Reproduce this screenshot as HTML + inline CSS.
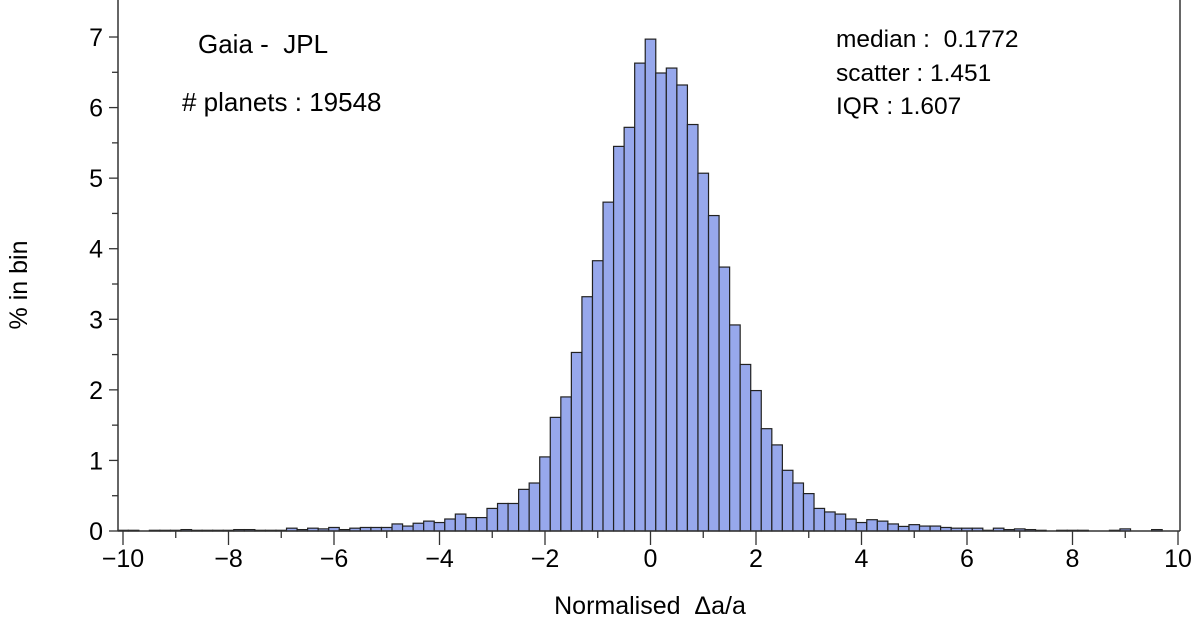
<!DOCTYPE html>
<html><head><meta charset="utf-8"><style>
body{margin:0;background:#fff;}
svg{display:block;font-family:"Liberation Sans",Arial,sans-serif;}
text{white-space:pre;}
</style></head><body>
<svg id="chart" width="1200" height="626" viewBox="0 0 1200 626" xmlns="http://www.w3.org/2000/svg" xml:space="preserve">
<g id="bars"></g>
<g id="axes"></g>
<text x="198" y="53" font-size="26">Gaia -  JPL</text>
<text x="182" y="111" font-size="26"># planets : 19548</text>
<text x="836" y="47" font-size="24.5">median :  0.1772</text>
<text x="836" y="81" font-size="24.5">scatter : 1.451</text>
<text x="836" y="114" font-size="24.5">IQR : 1.607</text>
<text x="650" y="614" font-size="25" text-anchor="middle">Normalised  Δa/a</text>
<text transform="translate(27,285) rotate(-90)" font-size="25" text-anchor="middle">% in bin</text>
</svg>
<script>
const binStart = -10.0;
const binWidth = 0.2;
const percents = [
0.01,0.01,0.00,0.01,0.01,0.01,0.02,0.01,0.01,0.01,
0.01,0.02,0.02,0.01,0.01,0.01,0.04,0.02,0.04,0.03,
0.05,0.02,0.04,0.05,0.05,0.05,0.10,0.07,0.11,0.14,
0.12,0.17,0.24,0.19,0.19,0.32,0.39,0.39,0.59,0.68,
1.05,1.61,1.90,2.53,3.32,3.83,4.66,5.45,5.72,6.63,
6.97,6.49,6.56,6.32,5.76,5.07,4.47,3.74,2.92,2.36,
1.99,1.45,1.22,0.86,0.68,0.53,0.32,0.27,0.24,0.17,
0.12,0.16,0.14,0.10,0.065,0.09,0.07,0.07,0.05,0.04,
0.04,0.04,0.01,0.04,0.02,0.03,0.02,0.01,0.00,0.01,
0.01,0.01,0.00,0.00,0.01,0.03,0.00,0.00,0.02,0.00];
const xTicks = [-10,-8,-6,-4,-2,0,2,4,6,8,10];
const xTickLabels = ["\u221210","\u22128","\u22126","\u22124","\u22122","0","2","4","6","8","10"];
const yTicks = [0,1,2,3,4,5,6,7];
const yTickLabels = ["0","1","2","3","4","5","6","7"];

const NS="http://www.w3.org/2000/svg";
const X0=118, X1=1180, Y0=531;
function xs(v){return 650.5+v*52.75;}
function ys(v){return Y0-v*70.57;}
function mk(t,a){const e=document.createElementNS(NS,t);for(const k in a)e.setAttribute(k,a[k]);return e;}
const bars=document.getElementById('bars'), axes=document.getElementById('axes');
percents.forEach((p,i)=>{
  const c=binStart+i*binWidth;
  let l=Math.max(xs(c-binWidth/2),X0), r=Math.min(xs(c+binWidth/2),X1);
  const y=ys(p);
  const el=mk('rect',{x:l,y:y,width:r-l,height:Math.max(Y0-y,0),fill:'#97a8ec',stroke:'#222','stroke-width':1.2});
  
  
  bars.appendChild(el);
});
axes.appendChild(mk('line',{x1:X0,y1:0,x2:X0,y2:Y0,stroke:'#333','stroke-width':1.5}));
axes.appendChild(mk('line',{x1:X1,y1:0,x2:X1,y2:Y0,stroke:'#333','stroke-width':1.5}));
axes.appendChild(mk('line',{x1:X0,y1:Y0,x2:X1,y2:Y0,stroke:'#333','stroke-width':1.5}));
for(let v=-10;v<=10;v+=1){
  const major=v%2===0;
  axes.appendChild(mk('line',{x1:xs(v),y1:Y0,x2:xs(v),y2:Y0+(major?14:7),stroke:'#333','stroke-width':1.3}));
}
xTicks.forEach((v,i)=>{
  const t=mk('text',{x:xs(v),y:567,'font-size':25,'text-anchor':'middle'});
  t.textContent=xTickLabels[i];
  
  
  axes.appendChild(t);
});
for(let v=0;v<=7;v+=0.5){
  const major=Number.isInteger(v);
  axes.appendChild(mk('line',{x1:X0,y1:ys(v),x2:X0-(major?9:6),y2:ys(v),stroke:'#333','stroke-width':1.3}));
}
yTicks.forEach((v,i)=>{
  const t=mk('text',{x:103,y:ys(v)+9,'font-size':25,'text-anchor':'end'});
  t.textContent=yTickLabels[i];
  
  
  axes.appendChild(t);
});
</script>
</body></html>
